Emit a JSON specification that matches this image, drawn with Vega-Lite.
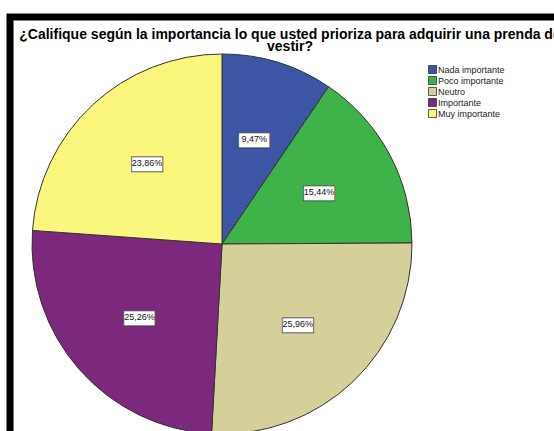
{
  "$schema": "https://vega.github.io/schema/vega-lite/v6.json",
  "autosize": "none",
  "padding": {"left": 10, "top": 17, "right": 0, "bottom": 0},
  "width": 560,
  "height": 440,
  "background": "white",
  "view": {"stroke": "black", "strokeWidth": 7},
  "config": {
    "view": {"stroke": "black", "strokeWidth": 7},
    "font": "Liberation Sans"
  },
  "title": {
    "text": ["¿Califique según la importancia lo que usted prioriza para adquirir una prenda de", "vestir?"],
    "font": "Liberation Sans",
    "fontSize": 14,
    "fontWeight": "bold",
    "color": "black",
    "lineHeight": 12,
    "baseline": "alphabetic",
    "anchor": "middle",
    "offset": 0,
    "dy": 48
  },
  "data": {
    "values": [
      {"categoria": "Nada importante", "pct": 9.47, "orden": 1, "etiqueta": "9,47%"},
      {"categoria": "Poco importante", "pct": 15.44, "orden": 2, "etiqueta": "15,44%"},
      {"categoria": "Neutro", "pct": 25.96, "orden": 3, "etiqueta": "25,96%"},
      {"categoria": "Importante", "pct": 25.26, "orden": 4, "etiqueta": "25,26%"},
      {"categoria": "Muy importante", "pct": 23.86, "orden": 5, "etiqueta": "23,86%"}
    ]
  },
  "encoding": {
    "theta": {"field": "pct", "type": "quantitative", "stack": true},
    "order": {"field": "orden", "type": "quantitative"}
  },
  "layer": [
    {
      "mark": {"type": "arc", "x": 212, "y": 227, "outerRadius": 190, "stroke": "#333333", "strokeWidth": 1},
      "encoding": {
        "color": {
          "field": "categoria",
          "type": "nominal",
          "scale": {
            "domain": ["Nada importante", "Poco importante", "Neutro", "Importante", "Muy importante"],
            "range": ["#3d55a5", "#3fb34a", "#d5d09a", "#7c297d", "#faf67e"]
          },
          "legend": {
            "orient": "none",
            "legendX": 418,
            "legendY": 48,
            "title": null,
            "padding": 0,
            "symbolType": "square",
            "symbolSize": 64,
            "symbolStrokeColor": "#333333",
            "symbolStrokeWidth": 0.8,
            "labelFont": "Liberation Sans",
            "labelFontSize": 9,
            "labelColor": "#222222",
            "labelOffset": 1,
            "rowPadding": -7
          }
        }
      }
    },
    {
      "mark": {"type": "text", "x": 212, "y": 227, "radius": 110, "text": "▬", "font": "DejaVu Sans", "fontSize": 41, "fill": "white", "stroke": "#333333", "strokeWidth": 0.7, "baseline": "middle", "align": "center"}
    },
    {
      "mark": {"type": "text", "x": 212, "y": 227, "radius": 110, "font": "Liberation Sans", "fontSize": 9, "color": "#111111", "baseline": "middle", "align": "center"},
      "encoding": {"text": {"field": "etiqueta", "type": "nominal"}}
    }
  ]
}
